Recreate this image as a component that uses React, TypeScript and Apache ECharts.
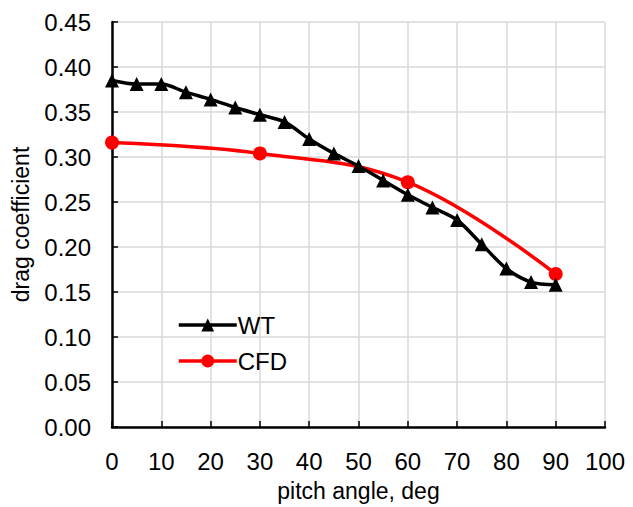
import React, { useEffect, useRef } from "react";
import * as echarts from "echarts";

const wtAngles = [0, 5, 10, 15, 20, 25, 30, 35, 40, 45, 50, 55, 60, 65, 70, 75, 80, 85, 90];
const wtValues = [0.385, 0.381, 0.381, 0.372, 0.364, 0.355, 0.347, 0.339, 0.320, 0.304, 0.290, 0.274, 0.258, 0.244, 0.230, 0.203, 0.176, 0.161, 0.158];
const cfdAngles = [0, 30, 60, 90];
const cfdValues = [0.316, 0.304, 0.272, 0.170];
const seriesNames = ["WT", "CFD"];
const xTitle = "pitch angle, deg";
const yTitle = "drag coefficient";

export default function App() {
  const ref = useRef<HTMLDivElement>(null);
  useEffect(() => {
    if (!ref.current) return;
    const chart = echarts.init(ref.current, undefined, { renderer: "svg" });
    const font = "Liberation Sans, Arial, sans-serif";
    chart.setOption({
      animation: false,
      backgroundColor: "#ffffff",
      textStyle: { fontFamily: font },
      grid: { left: 112, right: 28, top: 22, bottom: 76, containLabel: false },
      legend: {
        orient: "vertical",
        left: 172,
        top: 308,
        itemWidth: 58,
        itemHeight: 16,
        itemGap: 12,
        data: seriesNames.map((n) => ({ name: n, lineStyle: { width: 3.5 } })),
        lineStyle: { width: 3.5 },
        textStyle: { fontSize: 24, color: "#000", fontFamily: font, padding: [0, 0, 0, -4] },
      },
      xAxis: {
        type: "value",
        min: 0,
        max: 100,
        interval: 10,
        name: xTitle,
        nameLocation: "middle",
        nameGap: 52,
        nameTextStyle: { fontSize: 23, color: "#000", fontFamily: font },
        axisLine: { lineStyle: { color: "#000", width: 2.5 } },
        axisTick: { inside: true, length: 6, lineStyle: { color: "#000", width: 1.5 } },
        axisLabel: { fontSize: 24, color: "#000", margin: 22, fontFamily: font },
        splitLine: { show: true, lineStyle: { color: "#d9d9d9", width: 1.5 } },
      },
      yAxis: {
        type: "value",
        min: 0,
        max: 0.45,
        interval: 0.05,
        name: yTitle,
        nameLocation: "middle",
        nameGap: 80,
        nameTextStyle: { fontSize: 23, color: "#000", fontFamily: font },
        axisLine: { show: true, lineStyle: { color: "#000", width: 2.5 } },
        axisTick: { show: true, inside: true, length: 6, lineStyle: { color: "#000", width: 1.5 } },
        axisLabel: {
          fontSize: 24,
          color: "#000",
          margin: 21,
          fontFamily: font,
          formatter: (v: number) => v.toFixed(2),
        },
        splitLine: { show: true, lineStyle: { color: "#d9d9d9", width: 1.5 } },
      },
      series: [
        {
          name: seriesNames[0],
          type: "line",
          data: wtAngles.map((a, i) => [a, wtValues[i]]),
          smooth: 0.3,
          symbol: "triangle",
          symbolSize: 14,
          itemStyle: { color: "#000" },
          lineStyle: { color: "#000", width: 3.5 },
          z: 3,
        },
        {
          name: seriesNames[1],
          type: "line",
          data: cfdAngles.map((a, i) => [a, cfdValues[i]]),
          smooth: 0.4,
          symbol: "circle",
          symbolSize: 14,
          itemStyle: { color: "#ff0000" },
          lineStyle: { color: "#ff0000", width: 3.5 },
          z: 2,
        },
      ],
    });
    return () => chart.dispose();
  }, []);
  return <div ref={ref} style={{ width: 633, height: 507, position: "absolute", left: 0, top: 0 }} />;
}
